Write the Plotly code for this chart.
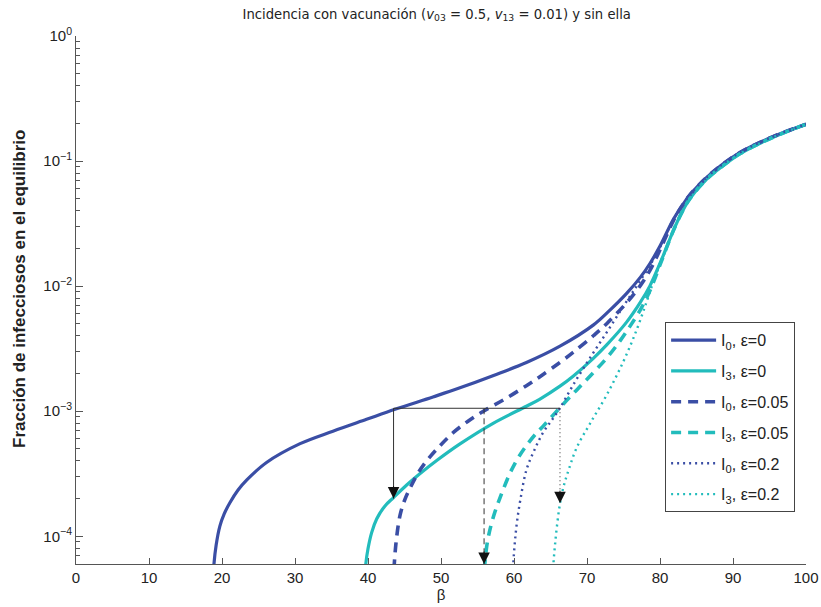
import numpy as np
import plotly.graph_objects as go

# ---------------- data ----------------
beta_I0_e0 = [18.75, 18.9, 19.2, 19.7, 20.3, 21.1, 22.2, 23.4, 26.1, 30.7, 35.2, 39.8, 43.7,
              48.9, 52.5, 57.2, 61.7, 66.3, 70.9, 73.0, 75.4, 77.3, 78.6, 80.0, 81.8, 83.0,
              84.1, 86.4, 88.7, 91.0, 95.5, 100.0]
I0_e0 = [3.98e-5, 6.0e-5, 8.51e-5, 1.20e-4, 1.51e-4, 1.86e-4, 2.34e-4, 2.82e-4, 3.89e-4,
         5.50e-4, 6.92e-4, 8.61e-4, 1.035e-3, 1.30e-3, 1.53e-3, 1.93e-3, 2.45e-3, 3.31e-3,
         4.90e-3, 6.31e-3, 8.71e-3, 1.175e-2, 1.51e-2, 2.09e-2, 3.39e-2, 4.37e-2, 5.37e-2,
         7.41e-2, 9.55e-2, 0.1175, 0.157, 0.197]

beta_I3_e0 = [39.55, 39.7, 40.0, 40.5, 41.2, 42.3, 43.5, 45.3, 47.1, 49.5, 52.5, 57.2, 61.7,
              63.5, 66.3, 68.1, 70.9, 72.7, 75.4, 77.3, 78.6, 80.2, 81.8, 83.0, 84.1, 86.4,
              88.7, 91.0, 95.5, 100.0]
I3_e0 = [3.98e-5, 6.0e-5, 7.94e-5, 1.07e-4, 1.38e-4, 1.74e-4, 2.04e-4, 2.57e-4, 3.16e-4,
         4.07e-4, 5.43e-4, 8.04e-4, 1.096e-3, 1.245e-3, 1.585e-3, 1.905e-3, 2.66e-3, 3.39e-3,
         5.13e-3, 7.41e-3, 1.0e-2, 1.62e-2, 2.75e-2, 3.89e-2, 5.01e-2, 7.16e-2, 9.23e-2,
         0.1148, 0.155, 0.197]

beta_I0_e005 = [43.45, 43.6, 43.9, 44.4, 45.1, 45.8, 46.8, 48.0, 49.8, 51.7, 53.7, 55.8, 58.7,
                61.7, 63.5, 66.3, 68.1, 70.9, 72.7, 75.4, 77.3, 78.6, 80.0, 81.8, 83.0, 84.1,
                86.4, 88.7, 91.0, 95.5, 100.0]
I0_e005 = [3.98e-5, 6.0e-5, 9.55e-5, 1.48e-4, 2.0e-4, 2.45e-4, 3.16e-4, 3.98e-4, 5.25e-4,
           6.76e-4, 8.32e-4, 1.0e-3, 1.245e-3, 1.60e-3, 1.88e-3, 2.455e-3, 2.95e-3, 4.03e-3,
           5.01e-3, 7.33e-3, 1.01e-2, 1.33e-2, 1.95e-2, 3.31e-2, 4.37e-2, 5.37e-2, 7.41e-2,
           9.55e-2, 0.1175, 0.157, 0.197]

beta_I3_e005 = [55.85, 56.0, 56.4, 57.2, 58.3, 59.5, 60.6, 61.7, 63.0, 64.0, 66.8, 68.6, 70.4,
                72.7, 74.5, 75.9, 77.3, 78.6, 80.2, 81.8, 83.0, 84.1, 86.4, 88.7, 91.0, 95.5,
                100.0]
I3_e005 = [3.98e-5, 6.0e-5, 9.33e-5, 1.445e-4, 2.19e-4, 3.24e-4, 4.27e-4, 5.31e-4, 6.61e-4,
           7.59e-4, 1.148e-3, 1.48e-3, 1.905e-3, 2.66e-3, 3.63e-3, 4.79e-3, 6.46e-3, 9.12e-3,
           1.585e-2, 2.75e-2, 3.89e-2, 5.01e-2, 7.16e-2, 9.23e-2, 0.1148, 0.155, 0.197]

beta_I0_e02 = [59.75, 59.9, 60.1, 60.4, 60.9, 61.7, 62.8, 64.0, 65.2, 66.3, 68.1, 70.4, 72.7,
               75.0, 76.8, 78.6, 80.0, 81.8, 83.0, 84.1, 86.4, 88.7, 91.0, 95.5, 100.0]
I0_e02 = [3.98e-5, 6.0e-5, 8.71e-5, 1.29e-4, 2.0e-4, 3.39e-4, 4.90e-4, 6.76e-4, 8.51e-4,
          1.06e-3, 1.62e-3, 2.66e-3, 4.27e-3, 6.92e-3, 1.0e-2, 1.46e-2, 2.04e-2, 3.39e-2,
          4.37e-2, 5.37e-2, 7.41e-2, 9.55e-2, 0.1175, 0.157, 0.197]

beta_I3_e02 = [65.25, 65.4, 65.6, 65.9, 66.3, 66.8, 67.6, 68.6, 70.4, 72.7, 75.0, 76.8, 78.2,
               79.3, 80.2, 81.8, 83.0, 84.1, 86.4, 88.7, 91.0, 95.5, 100.0]
I3_e02 = [3.98e-5, 6.0e-5, 8.32e-5, 1.23e-4, 1.82e-4, 2.51e-4, 3.55e-4, 5.13e-4, 7.94e-4,
          1.35e-3, 2.51e-3, 4.47e-3, 7.59e-3, 1.175e-2, 1.585e-2, 2.75e-2, 3.89e-2, 5.01e-2,
          7.16e-2, 9.23e-2, 0.1148, 0.155, 0.197]

# guide arrows: common start level, beta positions and arrow tips
guide_level = 1.055e-3
arrow_beta = [43.5, 55.9, 66.3]
arrow_tip = [2.0e-4, 6.0e-5, 1.84e-4]
arrow_dash = ["solid", "6px,4px", "1px,3px"]

x_ticks = [0, 10, 20, 30, 40, 50, 60, 70, 80, 90, 100]
y_ticks = [1e-4, 1e-3, 1e-2, 1e-1, 1]
y_ticktext = ["10<sup>\u22124</sup>", "10<sup>\u22123</sup>", "10<sup>\u22122</sup>",
              "10<sup>\u22121</sup>", "10<sup>0</sup>"]
y_min = 6e-5

# ---------------- styles ----------------
BLUE = "#3a4ea5"
CYAN = "#22bcbc"
AXC = "#555555"
FONT = "Liberation Sans, Arial, sans-serif"

fig = go.Figure()

series = [
    (beta_I0_e0, I0_e0, BLUE, "solid", 3.2, "I<sub>0</sub>, \u03b5=0"),
    (beta_I3_e0, I3_e0, CYAN, "solid", 3.2, "I<sub>3</sub>, \u03b5=0"),
    (beta_I0_e005, I0_e005, BLUE, "10px,7px", 3.6, "I<sub>0</sub>, \u03b5=0.05"),
    (beta_I3_e005, I3_e005, CYAN, "10px,7px", 3.6, "I<sub>3</sub>, \u03b5=0.05"),
    (beta_I0_e02, I0_e02, BLUE, "2px,4px", 2.4, "I<sub>0</sub>, \u03b5=0.2"),
    (beta_I3_e02, I3_e02, CYAN, "2px,4px", 2.4, "I<sub>3</sub>, \u03b5=0.2"),
]
for i, (bx, by, col, dash, w, name) in enumerate(series):
    fig.add_trace(go.Scatter(x=bx, y=by, mode="lines", name=name, legendgroup=f"g{i}",
                             line=dict(color=col, dash=dash, width=w, shape="spline", smoothing=1.0)))

# horizontal guide line
fig.add_trace(go.Scatter(x=[arrow_beta[0], arrow_beta[-1]], y=[guide_level, guide_level],
                         mode="lines", line=dict(color="#333333", width=1), showlegend=False,
                         hoverinfo="skip"))
annotations = []
for b, tip, d in zip(arrow_beta, arrow_tip, arrow_dash):
    fig.add_trace(go.Scatter(x=[b, b], y=[guide_level, tip], mode="lines",
                             line=dict(color="#333333", width=1, dash=d),
                             showlegend=False, hoverinfo="skip"))
    annotations.append(dict(x=b, y=np.log10(tip), xref="x", yref="y", text="",
                            showarrow=True, ax=0, ay=-14, arrowhead=2, arrowsize=2.3,
                            arrowwidth=1, arrowcolor="#111111", standoff=0))

# y-axis title placed as rotated text (as in the reference, slightly above centre)
annotations.append(dict(text="<b>Fracción de infecciosos en el equilibrio</b>",
                        xref="paper", yref="paper", x=-0.0767, y=0.521,
                        xanchor="center", yanchor="middle", textangle=-90,
                        showarrow=False, font=dict(size=17, color="#222222")))

# minor ticks on log axis
minor_vals = []
for e in range(-5, 0):
    for m in range(2, 10):
        v = m * 10.0 ** e
        if y_min <= v <= 1:
            minor_vals.append(v)

fig.update_layout(
    width=821, height=607,
    margin=dict(l=76, r=15, t=36, b=43),
    paper_bgcolor="white", plot_bgcolor="white",
    font=dict(family=FONT, size=15, color="#222222"),
    title=dict(text="Incidencia con vacunación (<i>v</i><sub>03</sub> = 0.5, <i>v</i><sub>13</sub> = 0.01) y sin ella",
               x=0.532, xanchor="center", y=0.977, yanchor="middle",
               font=dict(family="DejaVu Sans, sans-serif", size=13.2, color="#222222")),
    xaxis=dict(range=[0, 100], tickmode="array", tickvals=x_ticks, automargin=False,
               ticks="inside", ticklen=6, tickcolor=AXC, tickwidth=1,
               showline=True, linecolor=AXC, linewidth=1, mirror=False,
               showgrid=False, zeroline=False,
               tickfont=dict(size=15),
               title=dict(text="\u03b2", font=dict(size=15), standoff=4)),
    yaxis=dict(type="log", range=[np.log10(y_min), 0], tickmode="array", automargin=False,
               tickvals=y_ticks, ticktext=y_ticktext,
               ticks="inside", ticklen=7, tickcolor=AXC, tickwidth=1,
               minor=dict(tickmode="array", tickvals=minor_vals, ticks="inside",
                          ticklen=4, tickcolor=AXC, tickwidth=1, showgrid=False),
               showline=True, linecolor=AXC, linewidth=1, mirror=False,
               showgrid=False, zeroline=False,
               tickfont=dict(size=15)),
    legend=dict(x=0.807, y=0.458, xanchor="left", yanchor="top",
                bgcolor="white", bordercolor="#444444", borderwidth=1,
                font=dict(size=16), tracegroupgap=7, itemwidth=45),
    annotations=annotations,
    showlegend=True,
)

fig.write_html("out.html", config={"displayModeBar": False},
               post_script="document.body.style.margin='0px';document.body.style.padding='0px';")
